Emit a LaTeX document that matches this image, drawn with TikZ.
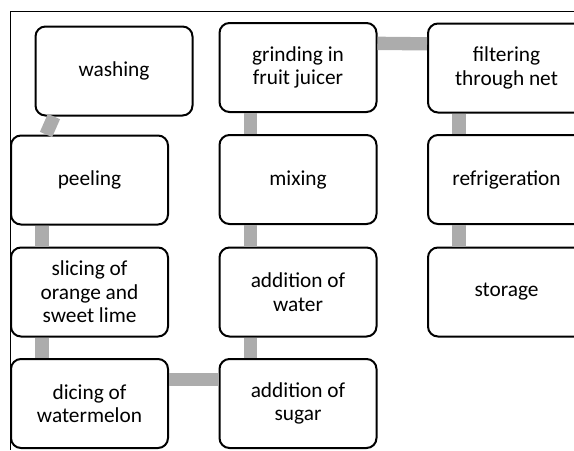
\documentclass[tikz,border=0pt]{standalone}
\usepackage{fontspec}
\setmainfont{Carlito}
\begin{document}
\begin{tikzpicture}[x=0.75pt,y=-0.75pt,
        step box/.style={draw,line width=1.5pt,rounded corners=7.5pt,fill=white,
            minimum width=117.75pt,minimum height=66.75pt,align=center,
            font=\fontsize{16pt}{17.6pt}\selectfont},
        link/.style={line width=10pt,color=gray!65}]

                    \useasboundingbox (0,0) rectangle (574,450);
                    \clip (0,0) rectangle (574,450);

                    % frame
                    \draw[line width=0.75pt] (574,11) -- (10,11) -- (10,450);

                    % first column
                    \node[step box] (washing) at (114,71) {washing};
                    \node[step box] (peeling) at (89.5,180) {peeling};
                    \node[step box] (slicing) at (89.5,292) {slicing of\\orange and\\sweet lime};
                    \node[step box] (dicing) at (89.5,403.5) {dicing of\\watermelon};

                    % second column
                    \node[step box] (grinding) at (298,67.5) {grinding in\\fruit juicer};
                    \node[step box] (mixing) at (298,179.5) {mixing};
                    \node[step box] (water) at (298,292) {addition of\\water};
                    \node[step box] (sugar) at (298,403.5) {addition of\\sugar};

                    % third column
                    \node[step box] (filtering) at (506.5,68) {filtering\\through net};
                    \node[step box] (fridge) at (506.5,179.5) {refrigeration};
                    \node[step box] (storage) at (506.5,292) {storage};

                    % links
                    \draw[link] ([xshift=14.6pt]washing.south west) -- ([xshift=27pt]peeling.north west);
                    \draw[link] ([xshift=24pt]peeling.south west) -- ([xshift=24pt]slicing.north west);
                    \draw[link] ([xshift=24pt]slicing.south west) -- ([xshift=24pt]dicing.north west);
                    \draw[link] ([yshift=-16pt]dicing.north east) -- ([yshift=-16pt]sugar.north west);
                    \draw[link] ([xshift=24pt]sugar.north west) -- ([xshift=24pt]water.south west);
                    \draw[link] ([xshift=24pt]water.north west) -- ([xshift=24pt]mixing.south west);
                    \draw[link] ([xshift=24pt]mixing.north west) -- ([xshift=24pt]grinding.south west);
                    \draw[link] ([yshift=-16pt]grinding.north east) -- ([yshift=-16pt]filtering.north west);
                    \draw[link] ([xshift=24pt]filtering.south west) -- ([xshift=24pt]fridge.north west);
                    \draw[link] ([xshift=24pt]fridge.south west) -- ([xshift=24pt]storage.north west);

\end{tikzpicture}
\end{document}
